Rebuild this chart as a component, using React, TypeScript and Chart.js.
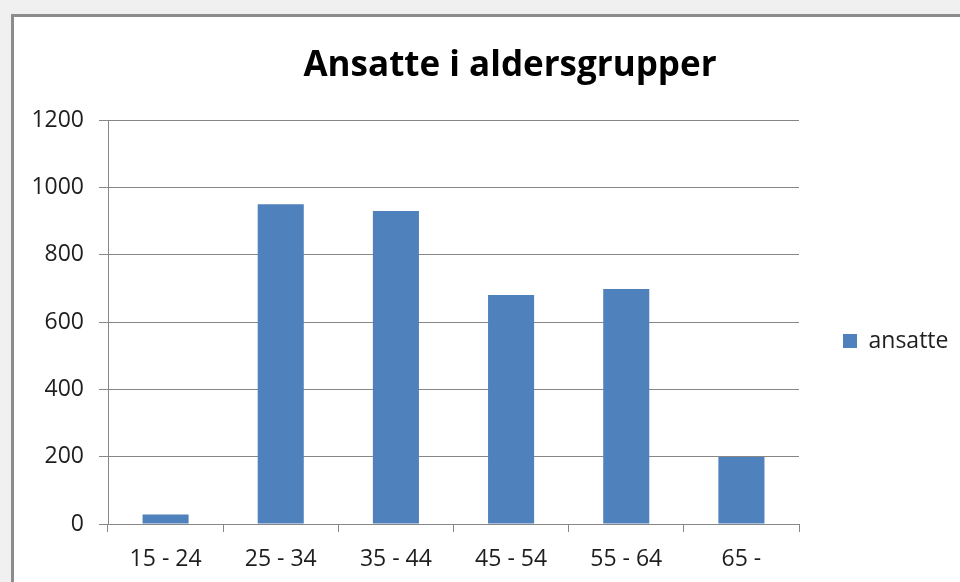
import React, { useEffect, useRef } from "react";
import { Chart, registerables } from "chart.js";

Chart.register(...registerables);

const categories = ["15 - 24", "25 - 34", "35 - 44", "45 - 54", "55 - 64", "65 -"];
const ansatte = [28, 950, 930, 680, 698, 199];
const seriesLabel = "ansatte";
const titleText = "Ansatte i aldersgrupper";
const yTicks = [0, 200, 400, 600, 800, 1000, 1200];

const FONT = "'Open Sans', 'DejaVu Sans', sans-serif";
const TEXT = "#1e1e1e";
const GRID = "#878787";
const BAR = "#4f81bd";

const CANVAS_W = 1020;
const CANVAS_H = 682;
const RIGHT_SPACE = 221;

export default function App() {
  const ref = useRef<HTMLCanvasElement | null>(null);

  useEffect(() => {
    if (!ref.current) return;
    const chart = new Chart(ref.current, {
      type: "bar",
      data: {
        labels: categories,
        datasets: [
          {
            label: seriesLabel,
            data: ansatte,
            backgroundColor: BAR,
            borderWidth: 0,
            categoryPercentage: 0.8,
            barPercentage: 0.5,
          },
        ],
      },
      options: {
        responsive: false,
        animation: false,
        devicePixelRatio: 1,
        layout: { padding: 0 },
        plugins: {
          tooltip: { enabled: false },
          legend: {
            display: true,
            position: "right",
            align: "center",
            labels: {
              boxWidth: 14,
              boxHeight: 14,
              padding: 44,
              color: TEXT,
              font: { family: FONT, size: 23 },
            },
          },
          title: {
            display: true,
            text: titleText,
            color: "#000",
            font: { family: FONT, size: 35, weight: "bold" },
            padding: { top: 45, bottom: 33 },
          },
        },
        scales: {
          x: {
            afterFit: (s: any) => {
              s.height = CANVAS_H - 524;
            },
            grid: {
              offset: true,
              drawOnChartArea: false,
              drawTicks: true,
              tickLength: 8,
              color: GRID,
            },
            border: { display: true, color: GRID, width: 1 },
            ticks: {
              color: TEXT,
              font: { family: FONT, size: 23 },
              padding: 14,
              maxRotation: 0,
            },
          },
          y: {
            min: 0,
            max: 1200,
            afterFit: (s: any) => {
              s.width = 108;
            },
            afterBuildTicks: (s: any) => {
              s.ticks = yTicks.map((v) => ({ value: v }));
            },
            grid: {
              color: GRID,
              drawTicks: true,
              tickLength: 9,
            },
            border: { display: true, color: GRID, width: 1 },
            ticks: {
              color: TEXT,
              font: { family: FONT, size: 23 },
              padding: 15,
              callback: (v: any) => String(v),
            },
          },
          spacer: {
            type: "linear",
            position: "right",
            display: true,
            weight: 2000,
            grid: { display: false, drawTicks: false },
            border: { display: false },
            ticks: { display: false },
            afterFit: (s: any) => {
              const lw = s.chart.legend && s.chart.legend.width ? s.chart.legend.width : 160;
              s.width = Math.max(0, RIGHT_SPACE - lw);
            },
          },
        },
      },
    });
    return () => chart.destroy();
  }, []);

  return (
    <div
      style={{
        position: "fixed",
        left: 0,
        top: 0,
        width: 960,
        height: 582,
        overflow: "hidden",
        background: "#f0f0f0",
      }}
    >
      <div
        style={{
          position: "absolute",
          left: 11,
          top: 14,
          width: 1100,
          height: 700,
          border: "3px solid #8c8c8c",
          background: "#ffffff",
        }}
      />
      <canvas
        ref={ref}
        width={CANVAS_W}
        height={CANVAS_H}
        style={{ position: "absolute", left: 0, top: 0, width: CANVAS_W, height: CANVAS_H }}
      />
    </div>
  );
}
